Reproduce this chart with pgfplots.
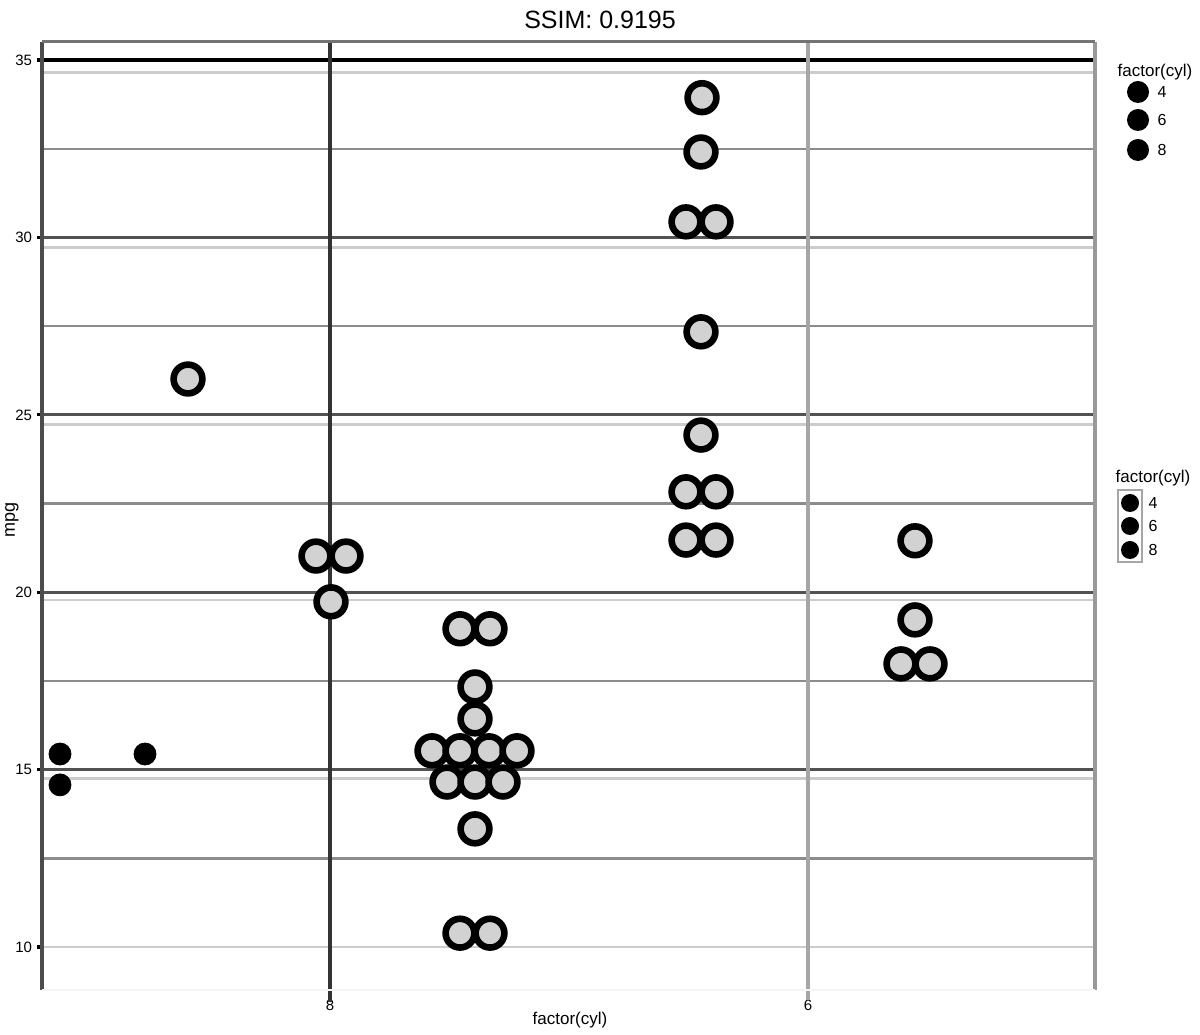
\documentclass[border=0pt]{standalone}
\usepackage{fontspec}
\setmainfont{Liberation Sans}
\usepackage{pgfplots}
\pgfplotsset{compat=1.18}
\begin{document}
\begin{tikzpicture}[x=1pt,y=1pt]
\path[use as bounding box] (0,0) rectangle (600,517);
\node[font=\fontsize{12.5}{15}\selectfont] at (300,507) {SSIM: 0.9195};
\begin{axis}[at={(21pt,22pt)}, anchor=south west, scale only axis,
  width=526.5pt, height=474pt,
  xmin=42, xmax=1095, ymin=8.788, ymax=35.51,
  axis line style={draw=none},
  xtick={330,808}, xticklabels={8,6},
  ytick={10,15,20,25,30,35},
  /pgf/number format/assume math mode=true,
  tick label style={font=\fontsize{7.5}{9}\selectfont, text=black},
  ytick pos=left, xtick pos=bottom, tick align=outside,
  major tick length=2.5pt, minor tick length=0pt,
  tick style={black, line width=1.6pt},
  xtick style={draw=none},
  xticklabel style={yshift=1pt},
  yticklabel style={xshift=1pt},
  clip=false]
% minor grid
\foreach \v in {12.5,17.5,22.5,27.5,32.5}{
  \edef\tmp{\noexpand\draw[black!45, line width=1.2pt] (axis cs:42,\v) -- (axis cs:1095,\v);}\tmp}
% ghost lines
\foreach \v in {10,14.76,19.78,24.72,29.71,34.64}{
  \edef\tmp{\noexpand\draw[black!20, line width=1.4pt] (axis cs:42,\v) -- (axis cs:1095,\v);}\tmp}
% major grid
\foreach \v in {15,20,25,30}{
  \edef\tmp{\noexpand\draw[black!68, line width=1.6pt] (axis cs:42,\v) -- (axis cs:1095,\v);}\tmp}
\draw[black, line width=1.7pt] (axis cs:42,35) -- (axis cs:1095,35);
\draw[black!70, line width=1.8pt] (axis cs:42,8.788) -- (axis cs:42,35.51);
\draw[black!80, line width=1.8pt] (axis cs:330,8.45) -- (axis cs:330,35.51);
\draw[black!35, line width=1.6pt] (axis cs:808,8.5) -- (axis cs:808,35.51);
\draw[black!40, line width=1.6pt] (axis cs:1095,8.788) -- (axis cs:1095,35.51);
\draw[black!55, line width=1.5pt] (axis cs:42,35.51) -- (axis cs:1095,35.51);
\draw[gray!8, line width=1pt] (axis cs:42,8.788) -- (axis cs:1095,8.788);
% black dots
\addplot[only marks, mark=*, mark size=5.5pt, mark options={fill=black, draw=black}]
  coordinates {(60,15.44) (60,14.57) (145,15.44)};
% ring dots
\addplot[only marks, mark=*, mark size=7.2pt, mark options={fill=gray!35, draw=black, line width=3.3pt}]
  coordinates {
  (188,26.01) (316,21.02) (346,21.02) (331,19.73)
  (460,18.97) (490,18.97) (475,17.33) (475,16.43)
  (432,15.53) (460,15.53) (489,15.53) (517,15.53)
  (447,14.65) (475,14.65) (503,14.65)
  (475,13.33) (460,10.39) (490,10.39)
  (702,33.94) (701,32.41) (686,30.44) (716,30.44) (701,27.34) (701,24.43)
  (686,22.83) (716,22.83) (686,21.47) (716,21.47)
  (915,21.45) (915,19.22) (901,17.98) (930,17.98)
  };
\end{axis}
\node[font=\fontsize{9}{10}\selectfont, rotate=90] at (6,257) {mpg};
\node[font=\fontsize{8.5}{10}\selectfont] at (285,7) {factor(cyl)};
% legend 1
\node[font=\fontsize{8.5}{10}\selectfont] at (577.5,481) {factor(cyl)};
\fill[black] (569,471) circle (5.5);
\fill[black] (569,457) circle (5.5);
\fill[black] (569,442) circle (5.5);
\node[font=\fontsize{8}{9}\selectfont] at (581,471) {4};
\node[font=\fontsize{8}{9}\selectfont] at (581,457) {6};
\node[font=\fontsize{8}{9}\selectfont] at (581,442) {8};
% legend 2
\node[font=\fontsize{8.5}{10}\selectfont] at (576.5,278) {factor(cyl)};
\draw[gray!70, line width=1pt] (559,236) rectangle (571,272);
\fill[black] (565,265.5) circle (4.5);
\fill[black] (565,254) circle (4.5);
\fill[black] (565,242) circle (4.5);
\node[font=\fontsize{8}{9}\selectfont] at (576.5,265.5) {4};
\node[font=\fontsize{8}{9}\selectfont] at (576.5,254) {6};
\node[font=\fontsize{8}{9}\selectfont] at (576.5,242) {8};
\end{tikzpicture}
\end{document}
